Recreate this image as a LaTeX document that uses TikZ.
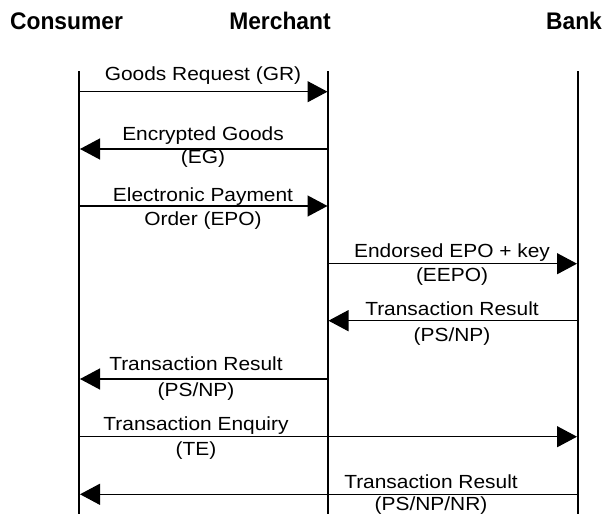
\documentclass[tikz,border=0pt]{standalone}
\usepackage{fontspec}
\setmainfont{Liberation Sans}[FakeStretch=1.1]
\newfontfamily\headfont{Liberation Sans}[FakeStretch=0.95]
\usetikzlibrary{arrows.meta}

\tikzset{
  party/.style={anchor=base, inner sep=0pt, font=\headfont\bfseries\fontsize{24}{28}\selectfont},
  lifeline/.style={line width=1.8pt},
  msg/.style={line width=1.3pt, -{Triangle[length=20pt, width=21pt]}},
  msgtext/.style={anchor=base, inner sep=0pt, font=\fontsize{19}{23}\selectfont},
}

\begin{document}
\begin{tikzpicture}[x=1pt, y=-1pt]
  \useasboundingbox (0,0) rectangle (613,514);

  % participants
  \node[party] (consumer) at (66.5,29.3) {Consumer};
  \node[party] (merchant) at (280,29.3) {Merchant};
  \node[party] (bank)     at (574,29.3) {Bank};

  % lifelines
  \coordinate (cTop) at (79,71);   \coordinate (cBot) at (79,514);
  \coordinate (mTop) at (328,71);  \coordinate (mBot) at (328,514);
  \coordinate (bTop) at (577.7,71); \coordinate (bBot) at (577.7,514);
  \draw[lifeline] (cTop) -- (cBot);
  \draw[lifeline] (mTop) -- (mBot);
  \draw[lifeline] (bTop) -- (bBot);

  % message anchor points on the lifelines
  \foreach \i/\y in {1/91.7, 2/149, 3/206, 4/263.7, 5/320.7, 6/379, 7/436.7, 8/494.3} {
    \coordinate (c\i) at (80,\y);
    \coordinate (m\i) at (327.5,\y);
    \coordinate (b\i) at (577,\y);
  }
  \coordinate (mR5) at (328.5,320.7);

  % messages
  \draw[msg] (c1) -- (m1);
  \node[msgtext] (gr) at (203,80.7) {Goods Request (GR)};

  \draw[msg] (m2) -- (c2);
  \node[msgtext] (eg1) at (203,140) {Encrypted Goods};
  \node[msgtext] (eg2) at (203,163) {(EG)};

  \draw[msg] (c3) -- (m3);
  \node[msgtext] (epo1) at (203,201.6) {Electronic Payment};
  \node[msgtext] (epo2) at (203,225.3) {Order (EPO)};

  \draw[msg] (m4) -- (b4);
  \node[msgtext] (eepo1) at (452,257.3) {Endorsed EPO + key};
  \node[msgtext] (eepo2) at (452,281.5) {(EEPO)};

  \draw[msg] (b5) -- (mR5);
  \node[msgtext] (tr1a) at (452,315) {Transaction Result};
  \node[msgtext] (tr1b) at (452,341.5) {(PS/NP)};

  \draw[msg] (m6) -- (c6);
  \node[msgtext] (tr2a) at (196,370.7) {Transaction Result};
  \node[msgtext] (tr2b) at (196,396.7) {(PS/NP)};

  \draw[msg] (c7) -- (b7);
  \node[msgtext] (te1) at (196,430.7) {Transaction Enquiry};
  \node[msgtext] (te2) at (196,455) {(TE)};

  \draw[msg] (b8) -- (c8);
  \node[msgtext] (tr3a) at (431,488.3) {Transaction Result};
  \node[msgtext] (tr3b) at (431,510) {(PS/NP/NR)};
\end{tikzpicture}
\end{document}
